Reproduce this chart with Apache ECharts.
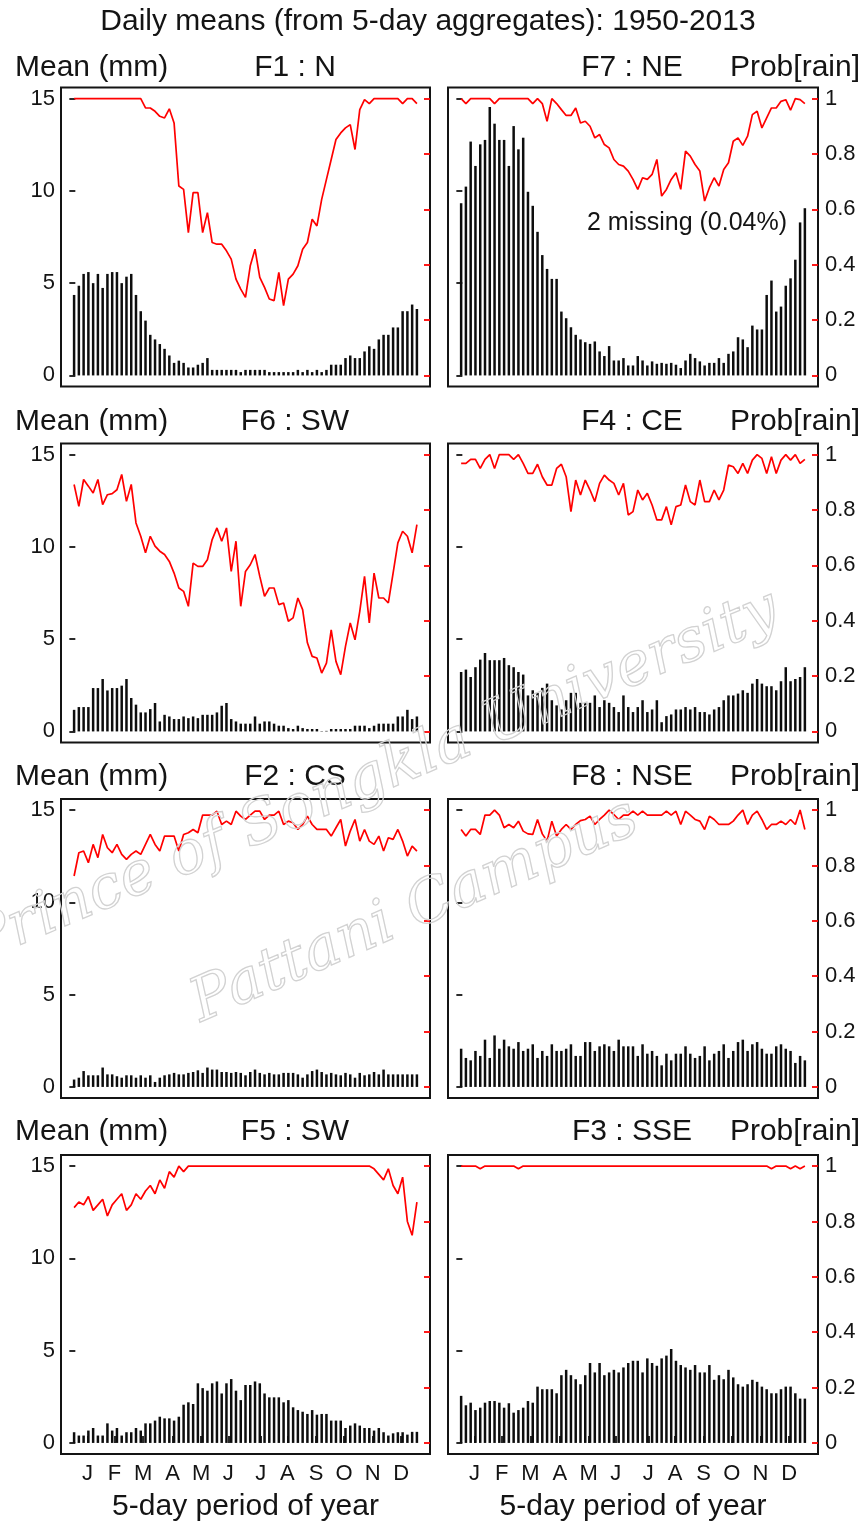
<!DOCTYPE html>
<html><head><meta charset="utf-8">
<script src="https://cdn.jsdelivr.net/npm/echarts@6/dist/echarts.min.js"></script>
<style>html,body{margin:0;padding:0;background:#fff}#c{width:867px;height:1524px}</style>
</head><body><div id="c"></div>
<script>
// ---- data ----
const monthLabels = ['J','F','M','A','M','J','J','A','S','O','N','D'];
const monthTicks = [3.8,9.5,15.5,21.7,27.7,33.4,40.2,45.8,51.8,57.7,63.7,69.7];
const meanTicks = [0,5,10,15];
const probTicks = [0,0.2,0.4,0.6,0.8,1];
const pentads = Array.from({length:73},(_, i)=>i+1);

const f1Mean = [4.36,4.86,5.5,5.6,5.0,5.5,4.74,5.5,5.6,5.6,5.0,5.35,5.5,4.36,3.48,2.97,2.2,1.95,1.7,1.44,1.08,0.68,0.8,0.68,0.43,0.43,0.58,0.68,0.94,0.3,0.3,0.3,0.3,0.3,0.3,0.18,0.3,0.3,0.3,0.3,0.3,0.18,0.18,0.18,0.18,0.18,0.18,0.3,0.18,0.3,0.18,0.3,0.18,0.3,0.58,0.58,0.58,0.94,1.08,0.94,0.94,1.3,1.58,1.44,1.95,2.2,2.2,2.6,2.6,3.48,3.48,3.84,3.6];
const f1Prob = [1,1,1,1,1,1,1,1,1,1,1,1,1,1,1,0.966,0.966,0.954,0.936,0.93,0.963,0.912,0.684,0.672,0.516,0.66,0.66,0.516,0.588,0.48,0.474,0.474,0.45,0.42,0.348,0.312,0.282,0.396,0.456,0.354,0.318,0.276,0.27,0.372,0.252,0.348,0.366,0.396,0.456,0.48,0.564,0.54,0.636,0.708,0.78,0.852,0.876,0.894,0.906,0.816,0.96,0.996,0.982,1,1,1,1,1,1,0.982,1,1,0.982];

const f7Mean = [9.33,10.23,12.67,11.35,12.52,12.76,14.54,13.64,12.76,12.76,11.35,13.51,12.25,12.88,9.95,9.19,7.78,6.52,5.77,5.23,5.23,3.46,3.1,2.61,2.2,1.95,1.8,1.71,1.84,1.3,1.05,1.59,0.81,0.81,0.94,0.54,0.54,1.05,0.81,0.54,0.76,0.63,0.68,0.63,0.68,0.58,0.4,0.81,1.17,0.94,0.76,0.54,0.68,0.68,0.94,0.68,1.17,1.3,2.07,1.95,1.53,2.7,2.49,2.49,4.36,5.14,3.46,3.73,4.86,5.26,6.27,8.29,9.06];
const f7Prob = [1,0.982,1,1,1,1,1,0.982,1,1,1,1,1,1,1,0.982,1,0.982,0.918,1,0.982,0.96,0.939,0.939,0.966,0.912,0.918,0.9,0.858,0.87,0.834,0.822,0.78,0.762,0.756,0.738,0.708,0.672,0.714,0.708,0.726,0.78,0.648,0.672,0.708,0.732,0.672,0.81,0.792,0.762,0.738,0.63,0.678,0.714,0.684,0.744,0.768,0.846,0.858,0.831,0.864,0.942,0.954,0.894,0.93,0.966,0.966,0.99,0.996,0.958,1,0.996,0.982];

const f6Mean = [1.17,1.32,1.32,1.32,2.35,2.35,2.84,2.22,2.35,2.35,2.48,2.84,1.81,1.45,1.03,1.03,1.21,1.54,0.54,0.9,0.81,0.67,0.67,0.81,0.72,0.81,0.72,0.9,0.9,0.9,1.03,1.39,1.54,0.67,0.54,0.42,0.42,0.42,0.81,0.42,0.54,0.54,0.42,0.31,0.31,0.18,0.13,0.31,0.18,0.13,0.13,0.13,0.02,0.03,0.13,0.13,0.13,0.13,0.13,0.31,0.31,0.31,0.18,0.31,0.42,0.42,0.42,0.42,0.81,0.81,1.17,0.67,0.81];
const f6Prob = [0.892,0.813,0.91,0.886,0.861,0.91,0.819,0.855,0.859,0.873,0.928,0.831,0.892,0.753,0.705,0.645,0.705,0.669,0.651,0.639,0.614,0.572,0.518,0.506,0.452,0.608,0.596,0.596,0.62,0.693,0.735,0.687,0.735,0.578,0.687,0.452,0.578,0.602,0.639,0.56,0.488,0.518,0.518,0.458,0.464,0.398,0.41,0.482,0.44,0.32,0.271,0.265,0.211,0.247,0.367,0.253,0.205,0.307,0.392,0.331,0.434,0.56,0.392,0.572,0.482,0.482,0.464,0.572,0.681,0.723,0.705,0.645,0.747];

const f4Mean = [3.22,3.35,2.95,3.48,3.89,4.25,3.86,3.86,3.86,3.98,3.59,3.48,3.22,3.08,1.95,2.23,2.09,2.36,2.59,1.69,1.41,1.19,1.69,2.09,2.09,1.55,1.55,1.55,1.95,1.32,1.69,1.55,1.32,1.05,1.95,1.32,1.05,1.32,1.69,1.05,1.19,1.69,0.5,0.83,0.92,1.19,1.19,1.32,1.19,1.32,1.05,1.05,0.92,1.19,1.32,1.69,1.95,1.95,2.05,2.23,2.09,2.59,2.84,2.59,2.45,2.45,2.23,2.72,3.48,2.72,2.84,2.95,3.48];
const f4Prob = [0.968,0.968,0.983,0.983,0.95,0.983,1,0.95,1,1,1,0.983,1,0.968,0.932,0.932,0.965,0.92,0.89,0.89,0.95,0.965,0.92,0.794,0.908,0.854,0.908,0.872,0.83,0.896,0.926,0.908,0.896,0.854,0.896,0.782,0.794,0.872,0.836,0.86,0.818,0.764,0.764,0.812,0.746,0.812,0.818,0.89,0.83,0.818,0.908,0.83,0.83,0.872,0.836,0.872,0.962,0.956,0.932,0.968,0.932,0.98,1,0.986,0.932,0.992,0.932,0.98,1,0.98,1,0.968,0.983];

const f2Mean = [0.4,0.5,0.86,0.63,0.63,0.63,1.05,0.68,0.68,0.58,0.5,0.63,0.63,0.5,0.63,0.5,0.63,0.27,0.5,0.63,0.68,0.76,0.68,0.68,0.76,0.81,0.9,0.76,1.05,0.94,0.94,0.81,0.81,0.76,0.81,0.76,0.63,0.81,0.94,0.76,0.68,0.76,0.68,0.68,0.76,0.76,0.76,0.68,0.5,0.68,0.86,0.94,0.81,0.68,0.76,0.68,0.63,0.76,0.68,0.5,0.76,0.63,0.68,0.81,0.68,0.94,0.68,0.68,0.68,0.68,0.68,0.68,0.68];
const f2Prob = [0.762,0.846,0.852,0.81,0.876,0.828,0.912,0.864,0.846,0.876,0.84,0.822,0.84,0.852,0.84,0.876,0.912,0.876,0.852,0.906,0.906,0.906,0.852,0.912,0.918,0.93,0.918,0.982,0.982,0.982,0.996,0.948,0.96,0.948,0.996,0.978,0.966,0.982,0.996,0.996,0.966,0.982,0.982,0.996,0.948,0.96,0.954,0.93,0.948,0.978,0.948,0.93,0.93,0.93,0.906,0.936,0.966,0.87,0.924,0.966,0.888,0.93,0.888,0.876,0.906,0.852,0.9,0.894,0.93,0.888,0.834,0.87,0.852];

const f8Mean = [2.07,1.57,1.44,1.95,1.68,2.56,1.57,2.79,2.07,2.56,2.2,2.07,2.43,1.95,2.07,2.31,1.57,1.95,1.68,2.31,1.95,1.95,2.07,2.31,1.68,1.68,2.43,2.43,1.95,2.2,2.31,2.2,1.95,2.56,2.2,2.2,2.2,1.68,2.31,1.8,1.95,1.68,1.17,1.8,1.44,1.8,1.8,2.2,1.8,1.57,1.68,2.2,1.44,1.8,1.95,2.31,1.57,1.95,2.43,2.56,1.95,2.31,2.43,2.07,1.8,1.8,2.2,2.31,2.07,1.95,1.3,1.68,1.44];
const f8Prob = [0.93,0.906,0.93,0.93,0.912,0.982,0.982,1,0.982,0.936,0.948,0.936,0.96,0.924,0.914,0.912,0.966,0.914,0.888,0.96,0.906,0.93,0.948,0.93,0.948,0.962,0.966,0.978,0.948,0.966,0.982,1,0.984,0.966,0.982,0.982,0.996,0.982,0.996,0.982,0.982,0.982,0.982,0.996,0.982,0.996,0.948,0.996,0.982,0.966,0.96,0.93,0.978,0.966,0.948,0.948,0.948,0.96,0.982,1,0.948,0.982,0.996,0.966,0.93,0.948,0.948,0.96,0.948,0.966,0.948,1,0.93];

const f5Mean = [0.58,0.4,0.4,0.67,0.81,0.4,0.4,1.06,0.67,0.81,0.4,0.58,0.58,0.81,0.67,1.06,1.06,1.21,1.42,1.33,1.33,1.21,1.42,2.07,2.2,2.11,3.23,2.97,2.83,3.23,3.33,2.68,3.23,3.46,2.83,2.32,3.14,3.14,3.33,3.23,2.68,2.47,2.47,2.47,2.2,2.32,1.93,1.78,1.69,1.57,1.78,1.53,1.57,1.57,1.21,1.21,1.21,0.81,0.94,1.06,0.94,0.81,0.81,0.67,0.81,0.58,0.4,0.52,0.58,0.58,0.45,0.6,0.6];
const f5Prob = [0.85,0.87,0.86,0.89,0.84,0.86,0.88,0.82,0.86,0.88,0.9,0.84,0.86,0.9,0.88,0.91,0.93,0.9,0.95,0.92,0.98,0.96,1,0.98,1,1,1,1,1,1,1,1,1,1,1,1,1,1,1,1,1,1,1,1,1,1,1,1,1,1,1,1,1,1,1,1,1,1,1,1,1,1,1,0.99,0.97,0.95,0.99,0.93,0.9,0.96,0.8,0.75,0.87];

const f3Mean = [2.55,2.04,2.18,1.78,1.91,2.18,2.27,2.27,2.18,1.91,2.15,1.64,1.78,1.91,2.27,2.18,3.05,2.91,2.91,2.91,2.69,3.67,3.96,3.67,3.45,3.18,3.67,4.33,3.82,4.33,3.67,3.82,3.96,3.82,4.09,4.33,4.45,4.45,3.82,4.58,4.33,4.18,4.58,4.73,5.09,4.45,4.22,4.09,3.96,4.22,3.82,3.82,4.22,3.42,3.67,3.45,3.96,3.55,3.18,3.05,3.18,3.42,3.31,3.05,2.91,2.69,2.69,2.91,3.05,3.05,2.69,2.4,2.4];
const f3Prob = [1,1,1,1,0.99,1,1,1,1,1,1,1,0.99,1,1,1,1,1,1,1,1,1,1,1,1,1,1,1,1,1,1,1,1,1,1,1,1,1,1,1,1,1,1,1,1,1,1,1,1,1,1,1,1,1,1,1,1,1,1,1,1,1,1,1,1,0.99,1,1,1,0.99,1,0.99,1];

// ---- layout ----
const panels = [
  {name:'F1 : N',  mean:f1Mean, prob:f1Prob, row:0, col:0, note:''},
  {name:'F7 : NE', mean:f7Mean, prob:f7Prob, row:0, col:1, note:'2 missing (0.04%)'},
  {name:'F6 : SW', mean:f6Mean, prob:f6Prob, row:1, col:0, note:''},
  {name:'F4 : CE', mean:f4Mean, prob:f4Prob, row:1, col:1, note:''},
  {name:'F2 : CS', mean:f2Mean, prob:f2Prob, row:2, col:0, note:''},
  {name:'F8 : NSE',mean:f8Mean, prob:f8Prob, row:2, col:1, note:''},
  {name:'F5 : SW', mean:f5Mean, prob:f5Prob, row:3, col:0, note:''},
  {name:'F3 : SSE',mean:f3Mean, prob:f3Prob, row:3, col:1, note:''}
];
const gridLeft = [61, 448], gridWidth = [369, 370];
const gridTop = [87.5, 443.5, 799, 1155], gridH = 299;
const headY = [68, 422, 777, 1132];
const headX = [295, 632];
const FONT = '"Liberation Sans", Arial, sans-serif';
const INK = '#141414';

const grids = [], xAxes = [], yAxes = [], series = [], graphics = [];
panels.forEach((p, i) => {
  const bottom = p.row === 3;
  grids.push({left: gridLeft[p.col], top: gridTop[p.row], width: gridWidth[p.col], height: gridH,
    show: true, borderColor: INK, borderWidth: 2, backgroundColor: 'transparent'});
  xAxes.push({gridIndex: i, type: 'value', min: -1.75, max: 75.75,
    axisLine: {show: false}, splitLine: {show: false},
    axisTick: {show: bottom, inside: true, length: 7, customValues: monthTicks, lineStyle: {color: INK, width: 1.8}},
    axisLabel: {show: bottom, customValues: monthTicks, margin: 9, fontSize: 22, fontFamily: FONT, color: INK,
      formatter: v => { const k = monthTicks.findIndex(t => Math.abs(t - v) < 1e-6); return k >= 0 ? monthLabels[k] : ''; }},
    name: bottom ? '5-day period of year' : '', nameLocation: 'middle', nameGap: 38,
    nameTextStyle: {fontSize: 30, fontFamily: FONT, color: INK, verticalAlign: 'top'}
  });
  yAxes.push({gridIndex: i, type: 'value', position: 'left', min: -0.6, max: 15.6,
    axisLine: {show: false}, splitLine: {show: false},
    axisTick: {show: true, inside: true, length: 6, customValues: meanTicks, lineStyle: {color: INK, width: 1.8}},
    axisLabel: {show: p.col === 0, customValues: meanTicks, margin: 6, fontSize: 22, fontFamily: FONT, color: INK}
  });
  yAxes.push({gridIndex: i, type: 'value', position: 'right', min: -0.04, max: 1.04,
    axisLine: {show: false}, splitLine: {show: false},
    axisTick: {show: true, inside: true, length: 6, customValues: probTicks, lineStyle: {color: '#ff0000', width: 1.8}},
    axisLabel: {show: p.col === 1, customValues: probTicks, margin: 7, fontSize: 22, fontFamily: FONT, color: INK,
      formatter: v => String(Math.round(v * 10) / 10)}
  });
  series.push({type: 'bar', xAxisIndex: i, yAxisIndex: 2 * i, barWidth: 2.5,
    itemStyle: {color: '#0d0d0d'}, data: p.mean.map((v, k) => [pentads[k], v])});
  series.push({type: 'line', xAxisIndex: i, yAxisIndex: 2 * i + 1, symbol: 'none',
    lineStyle: {color: '#ff0000', width: 1.7}, data: p.prob.map((v, k) => [pentads[k], v])});
  graphics.push({type: 'text', x: headX[p.col], y: headY[p.row], z: 10,
    style: {text: p.name, font: '30px ' + FONT, fill: INK, align: 'center', verticalAlign: 'middle', textAlign: 'center', textVerticalAlign: 'middle'}});
  if (p.note) {
    graphics.push({type: 'text', x: 687, y: 223, z: 10,
      style: {text: p.note, font: '25px ' + FONT, fill: INK, align: 'center', verticalAlign: 'middle', textAlign: 'center', textVerticalAlign: 'middle'}});
  }
});
headY.forEach(y => {
  graphics.push({type: 'text', x: 15, y: y, z: 10,
    style: {text: 'Mean (mm)', font: '30px ' + FONT, fill: INK, align: 'left', verticalAlign: 'middle', textAlign: 'left', textVerticalAlign: 'middle'}});
  graphics.push({type: 'text', x: 860, y: y, z: 10,
    style: {text: 'Prob[rain]', font: '30px ' + FONT, fill: INK, align: 'right', verticalAlign: 'middle', textAlign: 'right', textVerticalAlign: 'middle'}});
});
graphics.push({type: 'text', x: 428, y: 22, z: 10,
  style: {text: 'Daily means (from 5-day aggregates): 1950-2013', font: '30px ' + FONT, fill: INK,
    align: 'center', verticalAlign: 'middle', textAlign: 'center', textVerticalAlign: 'middle'}});
// watermark
graphics.push({type: 'text', x: 375, y: 778, rotation: 0.40, z: 20,
  style: {text: 'Prince of Songkla University', font: 'italic 60px "DejaVu Serif", serif', fill: 'rgba(255,255,255,0)',
    stroke: '#d2d2d2', lineWidth: 1.3, align: 'center', verticalAlign: 'middle', textAlign: 'center', textVerticalAlign: 'middle'}});
graphics.push({type: 'text', x: 415, y: 912, rotation: 0.41, z: 20,
  style: {text: 'Pattani Campus', font: 'italic 60px "DejaVu Serif", serif', fill: 'rgba(255,255,255,0)',
    stroke: '#d2d2d2', lineWidth: 1.3, align: 'center', verticalAlign: 'middle', textAlign: 'center', textVerticalAlign: 'middle'}});

const chart = echarts.init(document.getElementById('c'), null, {renderer: 'canvas'});
chart.setOption({
  backgroundColor: '#fff', animation: false,
  grid: grids, xAxis: xAxes, yAxis: yAxes, series: series, graphic: graphics
});
</script></body></html>
